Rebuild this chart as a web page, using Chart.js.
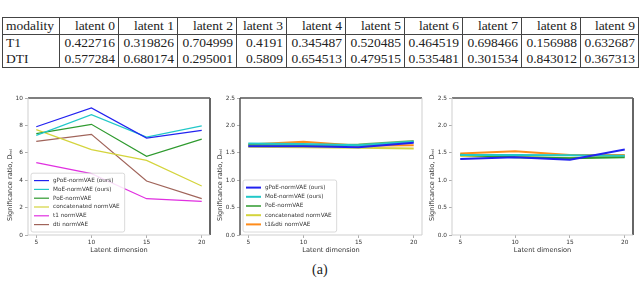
<!DOCTYPE html>
<html>
<head>
<meta charset="utf-8">
<script src="https://cdn.jsdelivr.net/npm/chart.js@4.4.0/dist/chart.umd.min.js"></script>
<style>
    html, body { margin: 0; padding: 0; background: #fff; width: 640px; height: 281px; overflow: hidden; }
    body { position: relative; }
    #weights { position: absolute; left: 2px; top: 17px; border-collapse: collapse; table-layout: fixed; font-family: "Liberation Serif", serif; font-size: 13.5px; color: #222; }
    #weights td { border-left: 1px solid #444; border-right: 1px solid #444; padding: 0 3px; text-align: right; white-space: nowrap; line-height: 16px; }
    #weights td:first-child { text-align: left; }
    #weights tr:first-child td { border-top: 1px solid #444; border-bottom: 1px solid #444; }
    #weights tr:last-child td { border-bottom: 1px solid #444; }
    canvas { position: absolute; top: 90px; }
    #caption { position: absolute; left: 312px; top: 262px; font-family: "Liberation Serif", serif; font-size: 14px; color: #222; }
</style>
</head>
<body>
<table id="weights"></table>
<canvas id="chartJoint" width="213" height="166" style="left:0px"></canvas>
<canvas id="chartPair" width="213" height="166" style="left:213px"></canvas>
<canvas id="chartSingle" width="214" height="166" style="left:426px"></canvas>
<div id="caption">(a)</div>
<script>
const latentLabels = ['latent 0', 'latent 1', 'latent 2', 'latent 3', 'latent 4', 'latent 5', 'latent 6', 'latent 7', 'latent 8', 'latent 9'];
const t1Weights = [0.422716, 0.319826, 0.704999, 0.4191, 0.345487, 0.520485, 0.464519, 0.698466, 0.156988, 0.632687];
const dtiWeights = [0.577284, 0.680174, 0.295001, 0.5809, 0.654513, 0.479515, 0.535481, 0.301534, 0.843012, 0.367313];

const dims = [5, 10, 15, 20];

// left panel
const gpoeA = [7.9, 9.27, 7.08, 7.64];
const moeA = [7.27, 8.78, 7.15, 7.96];
const poeA = [7.4, 8.08, 5.74, 7.0];
const concatA = [7.69, 6.23, 5.45, 3.58];
const t1A = [5.28, 4.48, 2.65, 2.46];
const dtiA = [6.84, 7.35, 3.94, 2.65];

// middle panel
const gpoeB = [1.62, 1.62, 1.60, 1.685];
const moeB = [1.67, 1.66, 1.64, 1.70];
const poeB = [1.64, 1.64, 1.65, 1.715];
const concatB = [1.61, 1.60, 1.59, 1.58];
const t1dtiB = [1.65, 1.70, 1.63, 1.64];

// right panel
const gpoeC = [1.385, 1.42, 1.375, 1.56];
const moeC = [1.46, 1.46, 1.455, 1.445];
const poeC = [1.465, 1.42, 1.40, 1.42];
const concatC = [1.44, 1.425, 1.405, 1.44];
const t1dtiC = [1.485, 1.53, 1.46, 1.46];

const colors = {
    blue: '#2222f0', cyan: '#22c8c8', green: '#2e9a2e', yellow: '#d4d43c',
    magenta: '#e030e0', brown: '#a0645a', orange: '#ff8c1a',
};

// table
const table = document.getElementById('weights');
const colWidths = [57, 59, 59, 59, 50, 59, 59, 58, 59, 59, 58];
const addRow = (cells) => {
    const tr = document.createElement('tr');
    cells.forEach((text, i) => {
        const td = document.createElement('td');
        td.textContent = text;
        td.style.width = (colWidths[i] - 7) + 'px';
        tr.appendChild(td);
    });
    table.appendChild(tr);
};
addRow(['modality', ...latentLabels]);
addRow(['T1', ...t1Weights.map(String)]);
addRow(['DTI', ...dtiWeights.map(String)]);

Chart.defaults.font.family = '"DejaVu Sans", sans-serif';
Chart.defaults.color = '#333';

const frame = {
    id: 'frame',
    afterDatasetsDraw(chart, args, opts) {
        const { ctx, chartArea: a } = chart;
        const edges = [
            ['top', a.left, a.top, a.right, a.top],
            ['right', a.right, a.top, a.right, a.bottom],
            ['bottom', a.left, a.bottom, a.right, a.bottom],
            ['left', a.left, a.top, a.left, a.bottom],
        ];
        ctx.save();
        edges.forEach(([name, x1, y1, x2, y2]) => {
            const [color, width] = opts[name];
            ctx.strokeStyle = color;
            ctx.lineWidth = width;
            ctx.beginPath();
            ctx.moveTo(x1, y1);
            ctx.lineTo(x2, y2);
            ctx.stroke();
        });
        ctx.restore();
    },
};

// y label sits a bit below the middle of the axis in the source figure
const sideTitle = {
    id: 'sideTitle',
    afterDraw(chart, args, opts) {
        const { ctx, chartArea: a } = chart;
        ctx.save();
        ctx.translate(opts.x, a.bottom - opts.fromBottom);
        ctx.rotate(-Math.PI / 2);
        ctx.font = '6.6px "DejaVu Sans"';
        ctx.fillStyle = '#333';
        ctx.textAlign = 'center';
        ctx.textBaseline = 'middle';
        ctx.fillText(opts.text, 0, 0);
        ctx.restore();
    },
};

const boxLegend = {
    id: 'boxLegend',
    afterDraw(chart, args, opts) {
        if (!opts.show) return;
        const { ctx, chartArea: a } = chart;
        const sets = chart.data.datasets;
        const rowH = opts.rowHeight, pad = 3, handle = 15;
        ctx.save();
        ctx.font = '5.7px "DejaVu Sans"';
        const textW = Math.max(...sets.map((d) => ctx.measureText(d.label).width));
        const w = pad + handle + 4 + textW + pad + 2;
        const h = sets.length * rowH + pad * 2;
        const x = a.left + 3;
        const y = a.bottom - 3 - h;
        ctx.fillStyle = 'rgba(255,255,255,0.85)';
        ctx.strokeStyle = '#d0d0d0';
        ctx.lineWidth = 0.8;
        ctx.beginPath();
        ctx.roundRect(x, y, w, h, 2);
        ctx.fill();
        ctx.stroke();
        sets.forEach((d, i) => {
            const cy = y + pad + rowH * (i + 0.5);
            ctx.strokeStyle = d.borderColor;
            ctx.lineWidth = opts.lineWidth;
            ctx.beginPath();
            ctx.moveTo(x + pad, cy);
            ctx.lineTo(x + pad + handle, cy);
            ctx.stroke();
            ctx.fillStyle = '#333';
            ctx.textBaseline = 'middle';
            ctx.fillText(d.label, x + pad + handle + 4, cy);
        });
        ctx.restore();
    },
};

const series = (label, values, color, width) => ({
    label,
    data: dims.map((d, i) => ({ x: d, y: values[i] })),
    borderColor: color,
    borderWidth: width,
    pointRadius: 0,
    tension: 0,
    fill: false,
});

const buildChart = (id, cfg) => new Chart(document.getElementById(id), {
    type: 'line',
    data: { datasets: cfg.datasets },
    options: {
        responsive: false,
        animation: false,
        devicePixelRatio: 1,
        layout: { padding: { top: 8, right: cfg.padRight, left: 0, bottom: 0 } },
        plugins: {
            legend: { display: false },
            tooltip: { enabled: false },
            frame: cfg.frame,
            sideTitle: { text: 'Significance ratio, D\u1D63\u2091\u2097', x: cfg.titleX, fromBottom: 50 },
            boxLegend: { show: cfg.legend, lineWidth: cfg.legendLine, rowHeight: cfg.rowHeight || 8.8 },
        },
        scales: {
            x: {
                type: 'linear',
                min: 4.25,
                max: 20.75,
                afterBuildTicks: (scale) => { scale.ticks = dims.map((v) => ({ value: v })); },
                afterFit: (scale) => { scale.height = 21; },
                ticks: { font: { size: 5.8 }, padding: 1, maxRotation: 0 },
                grid: { drawOnChartArea: false, drawTicks: true, tickLength: 3, color: '#999', lineWidth: 0.8 },
                border: { display: false },
                title: { display: true, text: 'Latent dimension', font: { size: 6.6 }, padding: { top: 0, bottom: 2.1 } },
            },
            y: {
                min: 0,
                max: cfg.yMax,
                afterBuildTicks: (scale) => { scale.ticks = cfg.yTicks.map((v) => ({ value: v })); },
                afterFit: (scale) => { scale.width = cfg.yWidth; },
                ticks: { font: { size: 5.8 }, padding: 2, callback: cfg.yFormat },
                grid: { drawOnChartArea: false, drawTicks: true, tickLength: 3, color: '#999', lineWidth: 0.8 },
                border: { display: false },
            },
        },
    },
    plugins: [frame, sideTitle, boxLegend],
});

const darkTop = ['#555', 1.5];
const light = ['#cfcfcf', 1];
const darkSide = ['#666', 2];

buildChart('chartJoint', {
    datasets: [
        series('gPoE-normVAE (ours)', gpoeA, colors.blue, 1.2),
        series('MoE-normVAE (ours)', moeA, colors.cyan, 1.2),
        series('PoE-normVAE', poeA, colors.green, 1.2),
        series('concatenated normVAE', concatA, colors.yellow, 1.2),
        series('t1 normVAE', t1A, colors.magenta, 1.2),
        series('dti normVAE', dtiA, colors.brown, 1.2),
    ],
    yMax: 10,
    yTicks: [0, 2, 4, 6, 8, 10],
    yFormat: (v) => String(v),
    yWidth: 28,
    titleX: 10,
    padRight: 3,
    legend: true,
    legendLine: 1.2,
    frame: { top: darkTop, right: darkSide, bottom: light, left: light },
});

buildChart('chartPair', {
    datasets: [
        series('gPoE-normVAE (ours)', gpoeB, colors.blue, 2),
        series('MoE-normVAE (ours)', moeB, colors.cyan, 2),
        series('PoE-normVAE', poeB, 'rgba(46,154,46,0.75)', 2.2),
        series('concatenated normVAE', concatB, colors.yellow, 2),
        series('t1&dti normVAE', t1dtiB, colors.orange, 2),
    ],
    yMax: 2.5,
    yTicks: [0, 0.5, 1, 1.5, 2, 2.5],
    yFormat: (v) => v.toFixed(1),
    yWidth: 27,
    titleX: 7,
    padRight: 4,
    legend: true,
    legendLine: 2,
    rowHeight: 9.2,
    frame: { top: darkTop, right: light, bottom: light, left: ['#555', 1.5] },
});

buildChart('chartSingle', {
    datasets: [
        series('gPoE-normVAE (ours)', gpoeC, colors.blue, 2),
        series('MoE-normVAE (ours)', moeC, colors.cyan, 2),
        series('PoE-normVAE', poeC, colors.green, 2),
        series('concatenated normVAE', concatC, colors.yellow, 2),
        series('t1&dti normVAE', t1dtiC, colors.orange, 2),
    ],
    yMax: 2.5,
    yTicks: [0, 0.5, 1, 1.5, 2, 2.5],
    yFormat: (v) => v.toFixed(1),
    yWidth: 26,
    titleX: 6,
    padRight: 7,
    legend: false,
    legendLine: 2,
    frame: { top: darkTop, right: darkSide, bottom: light, left: light },
});
</script>
</body>
</html>
